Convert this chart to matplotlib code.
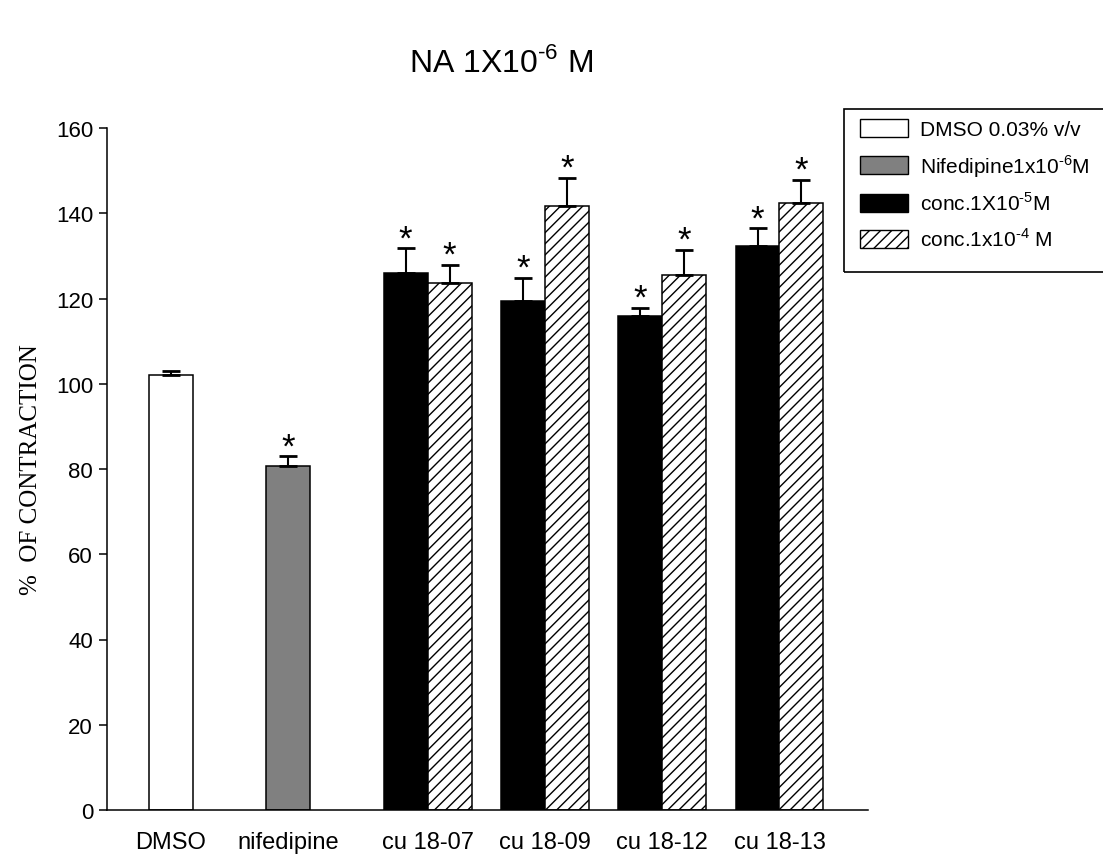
import matplotlib
matplotlib.use('Agg')
import matplotlib.pyplot as plt
import numpy as np
from matplotlib.patches import Rectangle, Patch

# ---------------- data ----------------
categories = ['DMSO', 'nifedipine', 'cu 18-07', 'cu 18-09', 'cu 18-12', 'cu 18-13']
series_labels = ['DMSO 0.03% v/v',
                 'Nifedipine1x10$^{\\mathregular{\u20106}}$M',
                 'conc.1X10$^{\\mathregular{\u20105}}$M',
                 'conc.1x10$^{\\mathregular{\u20104}}$ M']
dmso_mean = [102.1]
dmso_err = [1.0]
nif_mean = [80.6]
nif_err = [2.4]
low_mean = [125.9, 119.5, 115.9, 132.2]
low_err = [5.9, 5.4, 1.9, 4.3]
high_mean = [123.6, 141.8, 125.6, 142.4]
high_err = [4.3, 6.5, 5.8, 5.4]
nif_sig = [True]
low_sig = [True, True, True, True]
high_sig = [True, True, True, True]
yticks = [0, 20, 40, 60, 80, 100, 120, 140, 160]
title_text = 'NA 1X10$^{\\mathregular{\u20106}}$ M'
ylabel_text = '%  OF CONTRACTION'

# ---------------- style ----------------
W, H = 1103, 862
plt.rcParams['font.family'] = ['Liberation Sans', 'DejaVu Sans']
plt.rcParams['mathtext.fontset'] = 'custom'
plt.rcParams['mathtext.rm'] = 'Liberation Sans'
plt.rcParams['hatch.linewidth'] = 1.0

fig = plt.figure(figsize=(W / 100, H / 100), dpi=100)
ax = fig.add_axes([107 / W, 1 - 811 / H, (868 - 107) / W, (811 - 129) / H])

w = 0.375
g_dmso = np.array([0])
g_nif = np.array([1])
g_cu = np.arange(2, 2 + len(low_mean))

x_dmso = g_dmso - w / 2
x_nif = g_nif - w / 2
x_low = g_cu - w / 2
x_high = g_cu + w / 2

ekw = dict(fmt='none', ecolor='black', elinewidth=1.5, capsize=6.5, capthick=2.0, zorder=3)

ax.bar(x_dmso, dmso_mean, w, color='white', edgecolor='black', linewidth=1.1, zorder=2)
ax.bar(x_nif, nif_mean, w, color='#808080', edgecolor='black', linewidth=1.1, zorder=2)
ax.bar(x_low, low_mean, w, color='black', edgecolor='black', linewidth=1.1, zorder=2)
ax.bar(x_high, high_mean, w, color='white', edgecolor='black', linewidth=1.1,
       hatch='///', zorder=2)

for xs, m, e in [(x_dmso, dmso_mean, dmso_err), (x_nif, nif_mean, nif_err),
                 (x_low, low_mean, low_err), (x_high, high_mean, high_err)]:
    ax.errorbar(xs, m, yerr=[np.zeros(len(e)), e], **ekw)


def stars(xs, m, e, sig):
    for xi, mi, ei, s in zip(xs, m, e, sig):
        if s:
            ax.annotate('*', (xi, mi + ei), xytext=(0, 0), textcoords='offset points',
                        ha='center', va='baseline', fontsize=25)


stars(x_nif, nif_mean, nif_err, nif_sig)
stars(x_low, low_mean, low_err, low_sig)
stars(x_high, high_mean, high_err, high_sig)

ax.set_xlim((107 - 193) / 117.3, (868 - 193) / 117.3)
ax.set_ylim(0, 160)
ax.set_yticks(yticks)
ax.tick_params(axis='y', direction='out', length=6, width=1.1, labelsize=16, pad=4)

tick_pos = list(x_dmso) + list(x_nif) + list(g_cu)
ax.set_xticks(tick_pos)
ax.set_xticklabels(categories)
ax.tick_params(axis='x', length=0, labelsize=17, pad=15)

for s in ['top', 'right']:
    ax.spines[s].set_visible(False)
for s in ['left', 'bottom']:
    ax.spines[s].set_linewidth(1.1)

ax.set_ylabel(ylabel_text, family='Liberation Serif', fontsize=18)
ax.yaxis.set_label_coords(-0.085, 0.5)

fig.text(501 / W, 1 - 72 / H, title_text, ha='center', va='baseline', fontsize=23)

# legend
handles = [Patch(facecolor='white', edgecolor='black', linewidth=1.0),
           Patch(facecolor='#808080', edgecolor='black', linewidth=1.0),
           Patch(facecolor='black', edgecolor='black', linewidth=1.0),
           Patch(facecolor='white', edgecolor='black', linewidth=1.0, hatch='///')]
fs = 15
fpx = fs * 100 / 72
fig.legend(handles, series_labels, loc='upper left',
           bbox_to_anchor=(860 / W, 1 - 120 / H), bbox_transform=fig.transFigure,
           frameon=False, borderpad=0, borderaxespad=0, fontsize=fs,
           handlelength=48 / fpx, handleheight=20 / fpx, handletextpad=12 / fpx,
           labelspacing=0.62)
fig.add_artist(Rectangle((844 / W, 1 - 273 / H), (1130 - 844) / W, (273 - 110) / H,
                         transform=fig.transFigure, fill=False, edgecolor='black',
                         linewidth=1.2, clip_on=False))

fig.savefig('out.png', dpi=100)
